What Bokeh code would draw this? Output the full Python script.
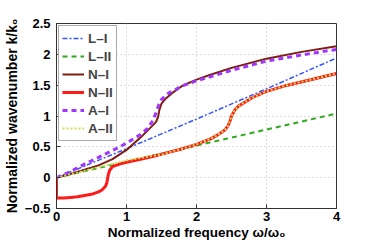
from bokeh.plotting import figure
from bokeh.models import FixedTicker, Range1d
from bokeh.embed import file_html
from bokeh.resources import INLINE

# ---- data ----
l1_x = [0, 1, 2, 3, 4]
l1_y = [0, 0.47, 0.95, 1.44, 1.94]

l2_x = [0, 1, 2, 3, 4]
l2_y = [0, 0.26, 0.52, 0.78, 1.04]

n1_x = [0, 0.2, 0.4, 0.6, 0.8, 1.0, 1.2, 1.35, 1.42, 1.45, 1.47, 1.5, 1.55, 1.65, 1.8, 2.0, 2.2, 2.5, 3.0, 3.5, 4.0]
n1_y = [0, 0.06, 0.13, 0.2, 0.3, 0.45, 0.65, 0.82, 0.9, 0.98, 1.1, 1.2, 1.27, 1.37, 1.49, 1.59, 1.67, 1.78, 1.93, 2.04, 2.13]

n2_x = [0, 0, 0.1, 0.2, 0.3, 0.4, 0.5, 0.6, 0.65, 0.7, 0.72, 0.74, 0.76, 0.8, 0.9, 1.0, 1.2, 1.4, 1.6, 1.8, 2.0, 2.2, 2.3, 2.4, 2.45, 2.48, 2.5, 2.55, 2.6, 2.8, 3.0, 3.3, 3.6, 4.0]
n2_y = [0, -0.33, -0.33, -0.32, -0.31, -0.29, -0.27, -0.23, -0.2, -0.14, -0.08, 0.05, 0.12, 0.18, 0.22, 0.25, 0.3, 0.35, 0.41, 0.47, 0.54, 0.63, 0.69, 0.77, 0.84, 0.92, 1.0, 1.1, 1.16, 1.3, 1.4, 1.5, 1.58, 1.69]

a1_x = [0, 0.2, 0.4, 0.6, 0.8, 1.0, 1.2, 1.3, 1.38, 1.42, 1.46, 1.5, 1.6, 1.8, 2.0, 2.5, 3.0, 3.5, 4.0]
a1_y = [0, 0.1, 0.22, 0.33, 0.44, 0.56, 0.7, 0.8, 0.93, 1.05, 1.18, 1.27, 1.37, 1.49, 1.57, 1.74, 1.89, 1.99, 2.08]

a2_x = [0, 0.5, 1.0, 1.3, 1.5, 1.6, 1.8, 2.0, 2.2, 2.3, 2.4, 2.45, 2.48, 2.5, 2.55, 2.6, 2.8, 3.0, 3.3, 3.6, 4.0]
a2_y = [0, 0.14, 0.28, 0.34, 0.37, 0.41, 0.47, 0.54, 0.63, 0.69, 0.77, 0.84, 0.92, 1.0, 1.1, 1.16, 1.3, 1.4, 1.5, 1.58, 1.69]

x_ticks = [0, 1, 2, 3, 4]
y_ticks = [-0.5, 0, 0.5, 1, 1.5, 2, 2.5]
y_tick_labels = {-0.5: "\u22120.5", 0: "0", 0.5: "0.5", 1: "1", 1.5: "1.5", 2: "2", 2.5: "2.5"}

FONT = "Liberation Sans"

p = figure(frame_width=280, frame_height=185, output_backend="svg", toolbar_location=None,
           x_range=Range1d(0, 4), y_range=Range1d(-0.5, 2.5),
           min_border_left=56, min_border_right=26, min_border_top=23, min_border_bottom=28)
p.outline_line_color = "#333333"
p.outline_line_width = 1

p.line(l1_x, l1_y, color="#3355ff", line_width=1.5, line_dash="5 2 2 2", legend_label="L\u2013I")
p.line(l2_x, l2_y, color="#2ea81c", line_width=2, line_dash="5 4", legend_label="L\u2013II")
p.line(n1_x, n1_y, color="#7f1d12", line_width=2, legend_label="N\u2013I")
p.line(n2_x, n2_y, color="#ff1a1a", line_width=3, legend_label="N\u2013II")
p.line(a1_x, a1_y, color="#a035ff", line_width=3, line_dash="5 4", legend_label="A\u2013I")
p.line(a2_x, a2_y, color="#d2dc50", line_width=2, line_dash="2 2", legend_label="A\u2013II")

for ax in (p.xaxis[0], p.yaxis[0]):
    ax.major_tick_in = 4
    ax.major_tick_out = 0
    ax.minor_tick_line_color = None
    ax.axis_line_color = "#333333"
    ax.major_tick_line_color = "#333333"
    ax.major_label_text_font = FONT
    ax.major_label_text_font_style = "bold"
    ax.major_label_text_font_size = "13px"
    ax.major_label_text_color = "black"
    ax.axis_label_text_font = FONT
    ax.axis_label_text_font_style = "bold"
    ax.axis_label_text_color = "black"

p.xaxis[0].axis_label_text_font_size = "13.5px"
p.yaxis[0].axis_label_text_font_size = "14px"
p.xaxis[0].ticker = FixedTicker(ticks=x_ticks)
p.yaxis[0].ticker = FixedTicker(ticks=y_ticks)
p.yaxis[0].major_label_overrides = y_tick_labels
p.xaxis[0].axis_label = "Normalized frequency \u03c9/\u03c9\u2080"
p.yaxis[0].axis_label = "Normalized wavenumber k/k\u2080"
p.xaxis[0].major_label_standoff = 3
p.yaxis[0].major_label_standoff = 6
p.xaxis[0].axis_label_standoff = 1
p.yaxis[0].axis_label_standoff = 2

p.xgrid.ticker = FixedTicker(ticks=x_ticks)
p.ygrid.ticker = FixedTicker(ticks=y_ticks)
for g in (p.xgrid[0], p.ygrid[0]):
    g.grid_line_color = "#bbbbbb"
    g.grid_line_dash = "1 3"
    g.grid_line_width = 1

lg = p.legend[0]
lg.location = "top_left"
lg.margin = 2
lg.padding = 3
lg.spacing = 0
lg.glyph_width = 22
lg.glyph_height = 18
lg.label_height = 18
lg.label_standoff = 4
lg.label_text_font = FONT
lg.label_text_font_style = "bold"
lg.label_text_font_size = "13.5px"
lg.border_line_color = "#555555"
lg.border_line_width = 1.5
lg.background_fill_alpha = 1

open("out.html", "w").write(file_html(p, INLINE))
